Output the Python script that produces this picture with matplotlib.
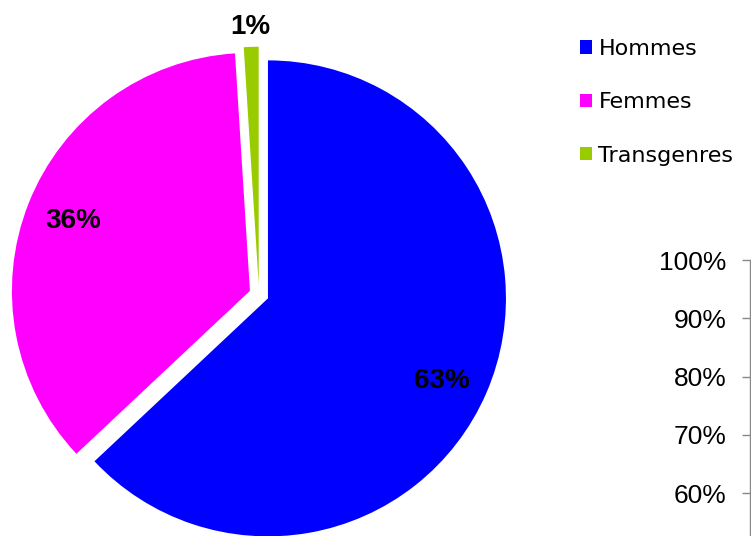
import matplotlib
matplotlib.use("Agg")
import matplotlib.pyplot as plt
import numpy as np

categories = ["Hommes", "Femmes", "Transgenres"]
values = [63, 36, 1]
colors = ["#0000FF", "#FF00FF", "#99CC00"]
axis_ticks = [0.6, 0.7, 0.8, 0.9, 1.0]
axis_labels = ["60%", "70%", "80%", "90%", "100%"]

plt.rcParams['font.family'] = ['Liberation Sans', 'DejaVu Sans']

W, H = 751, 536
fig = plt.figure(figsize=(W / 100, H / 100), dpi=100)

# pie axes
cx, cy, R = 259, 294.5, 238
lim = 1.15
side = 2 * lim * R
ax = fig.add_axes([(cx - side / 2) / W, 1 - (cy + side / 2) / H, side / W, side / H])
explode = [0.041] * len(values)
wedges, texts, autotexts = ax.pie(values, colors=colors, startangle=90, counterclock=False,
                                  explode=explode, autopct='%1.0f%%', pctdistance=0.8,
                                  radius=1.0,
                                  textprops=dict(fontsize=20, fontweight='bold', color='black'))
# fine placement of labels along their wedges
for i, (rad, dang) in enumerate([(0.81, -2.0), (0.8, 0.0), (1.085, 0.0)]):
    w = wedges[i]
    ang = np.deg2rad((w.theta1 + w.theta2) / 2 + dang)
    autotexts[i].set_position((w.center[0] + rad * np.cos(ang), w.center[1] + rad * np.sin(ang)))
ax.set_xlim(-lim, lim)
ax.set_ylim(-lim, lim)
ax.set_aspect('equal')
ax.axis('off')

leg = fig.legend(wedges, categories, loc='upper left', bbox_to_anchor=(580 / W, 1 - 39 / H),
                 frameon=False, prop=dict(family='DejaVu Sans', size=16),
                 handlelength=0.55, handleheight=0.55,
                 handletextpad=0.28, labelspacing=1.5, borderpad=0, borderaxespad=0)

# partial axis of a neighbouring chart at the right edge
top_px = 260
span_px = 583.0  # pixels for 0..100%
ax2 = fig.add_axes([750 / W, 1 - (top_px + span_px) / H, 0.2, span_px / H])
ax2.set_ylim(0, 1)
ax2.set_xlim(0, 1)
ax2.set_yticks(axis_ticks)
ax2.set_yticklabels(axis_labels)
ax2.set_xticks([])
for s in ['top', 'right', 'bottom']:
    ax2.spines[s].set_visible(False)
ax2.spines['left'].set_color('#888888')
ax2.spines['left'].set_linewidth(1.0)
ax2.tick_params(axis='y', direction='out', length=6, width=1.0, color='#888888',
                pad=11, labelsize=19)
ax2.patch.set_visible(False)

fig.savefig("out.png", dpi=100)
